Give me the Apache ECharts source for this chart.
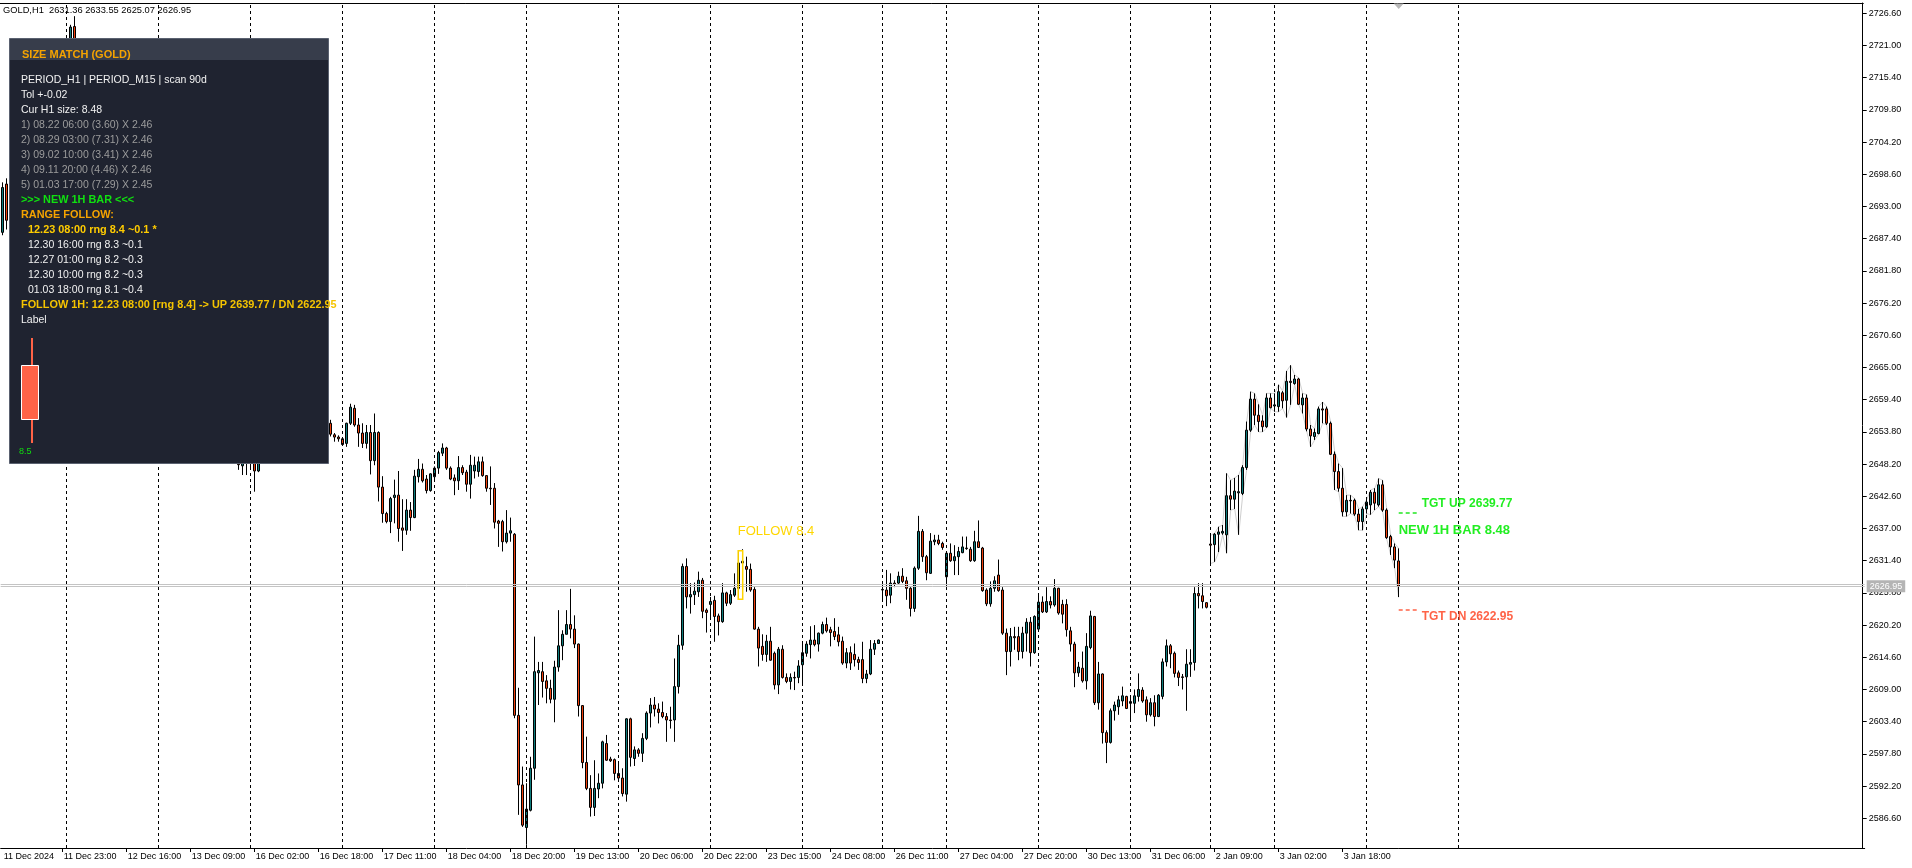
<!DOCTYPE html>
<html>
<head>
<meta charset="utf-8">
<script src="https://cdn.jsdelivr.net/npm/echarts@6.0.0/dist/echarts.min.js"></script>
<style>
html,body{margin:0;padding:0;background:#fff;}
#c{width:1912px;height:868px;}
</style>
</head>
<body>
<div id="c"></div>
<script>
// ---------------- DATA ----------------
const symbolName = 'GOLD,H1';
const lastOHLC = [2631.36, 2633.55, 2625.07, 2626.95]; // O H L C of current bar
const bidPrice = 2626.95;
const askPrice = 2627.30;
const tgtUp = 2639.77;
const tgtDn = 2622.95;
const followBar = 184;      // 23 Dec 08:00
const followRange = '8.4';
const newBarSize = '8.48';

// hourly bars [open, high, low, close]; bars 2..81 sit behind the panel (estimated)
const d11Dec = [
[2688.5,2697.2,2688.0,2696.3],[2696.9,2697.9,2689.0,2690.6],[2690.6,2693.0,2688.6,2692.4],[2692.4,2695.8,2691.0,2694.9],
[2694.9,2697.2,2693.1,2696.0],[2696.0,2699.4,2694.8,2698.7],[2698.7,2700.3,2696.2,2697.1],[2697.1,2703.5,2696.0,2702.8],
[2702.8,2708.9,2701.5,2707.4],[2707.4,2710.2,2704.6,2705.9],[2705.9,2712.4,2705.1,2711.6],[2711.6,2715.0,2709.8,2713.9],
[2713.9,2716.3,2711.2,2712.5],[2712.5,2717.8,2711.9,2716.9],[2716.9,2719.6,2715.3,2718.2],[2718.2,2720.1,2716.8,2717.5]];
const d12Dec = [
[2717.5,2721.8,2716.9,2720.9],[2720.9,2724.6,2720.2,2724.2],[2724.3,2726.1,2719.0,2720.0],[2720.0,2721.6,2716.4,2717.3],
[2717.3,2719.5,2714.8,2718.6],[2718.6,2720.4,2715.9,2716.5],[2716.5,2717.9,2712.7,2713.4],[2713.4,2715.8,2711.0,2714.9],
[2714.9,2716.2,2709.5,2710.3],[2710.3,2712.6,2706.8,2708.1],[2708.1,2711.4,2706.2,2710.6],[2710.6,2712.0,2704.9,2705.7],
[2705.7,2707.3,2700.8,2702.4],[2702.4,2704.6,2697.3,2698.9],[2698.9,2703.1,2697.6,2701.8],[2701.8,2702.5,2693.9,2695.2],
[2695.2,2697.4,2689.6,2691.3],[2691.3,2694.8,2686.5,2693.6],[2693.6,2695.9,2688.4,2689.7],[2689.7,2691.2,2683.9,2685.4],
[2685.4,2688.9,2683.2,2687.6],[2687.6,2689.3,2684.7,2686.1],[2686.1,2687.4,2683.8,2685.0]];
const d13Dec = [
[2685.0,2686.7,2682.5,2683.6],[2683.6,2685.9,2681.7,2685.1],[2685.1,2687.2,2683.0,2684.0],[2684.0,2684.8,2679.4,2680.6],
[2680.6,2682.9,2678.7,2681.9],[2681.9,2683.5,2677.8,2678.8],[2678.8,2680.4,2675.6,2676.9],[2676.9,2679.7,2675.2,2678.5],
[2678.5,2680.0,2673.9,2674.8],[2674.8,2676.3,2670.1,2671.3],[2671.3,2674.6,2669.4,2673.2],[2673.2,2674.1,2666.8,2667.9],
[2667.9,2669.5,2662.3,2663.6],[2663.6,2667.2,2661.0,2665.8],[2665.8,2666.9,2657.9,2659.4],[2659.4,2662.1,2655.3,2656.7],
[2656.7,2660.8,2654.9,2659.5],[2659.5,2660.4,2652.6,2654.0],[2654.0,2656.3,2650.8,2651.9],[2651.9,2654.7,2649.6,2653.3],
[2653.3,2654.0,2647.2,2648.1],[2647.9,2650.4,2646.3,2649.6],[2649.6,2650.2,2646.3,2648.4]];
const d16Dec = [
[2648.6,2651.3,2647.5,2650.4],[2650.4,2651.0,2643.4,2647.0],[2647.0,2650.8,2646.8,2649.9],[2649.9,2653.6,2649.1,2652.8],
[2652.8,2654.9,2650.7,2651.5],[2651.5,2655.2,2650.9,2654.6],[2654.6,2657.8,2653.7,2656.9],[2656.9,2658.3,2654.2,2655.3],
[2655.3,2659.6,2654.8,2658.7],[2658.7,2661.9,2657.5,2660.4],[2660.4,2663.0,2658.2,2659.1],[2659.1,2662.5,2657.6,2661.8],
[2661.8,2664.9,2660.3,2663.2],[2663.2,2664.1,2658.4,2659.6],[2659.6,2661.7,2656.1,2657.2],[2657.2,2660.3,2655.8,2659.4],
[2659.4,2660.8,2655.2,2656.1],[2656.1,2658.4,2653.9,2657.6],[2657.6,2659.2,2655.4,2656.0],[2656.0,2657.7,2654.6,2655.4],
[2655.3,2655.9,2653.0,2653.4],[2653.3,2653.6,2652.1,2652.9],[2652.9,2653.2,2652.1,2652.6]];
const d17Dec = [
[2652.6,2652.9,2651.4,2651.6],[2651.8,2655.4,2651.2,2655.3],[2655.3,2658.7,2655.0,2658.1],[2657.9,2658.5,2654.7,2655.0],
[2655.0,2656.2,2651.2,2653.6],[2653.6,2655.3,2651.0,2651.8],[2651.8,2655.0,2650.9,2653.7],[2653.7,2655.0,2646.4,2648.8],
[2648.8,2657.0,2648.0,2653.7],[2653.7,2653.9,2641.7,2644.2],[2644.2,2646.1,2638.0,2639.6],[2639.6,2639.9,2637.9,2638.2],
[2638.2,2642.5,2636.2,2642.2],[2642.4,2645.5,2637.9,2642.8],[2642.8,2647.0,2634.7,2637.0],[2637.1,2642.1,2633.1,2636.7],
[2636.7,2642.1,2635.9,2640.2],[2640.2,2641.6,2636.6,2638.9],[2638.9,2647.2,2638.8,2646.1],[2646.0,2649.1,2645.0,2647.3],
[2647.3,2648.3,2645.0,2645.3],[2645.6,2646.3,2643.1,2643.6],[2643.6,2646.6,2643.4,2646.5]];
const d18Dec = [
[2646.0,2647.8,2645.4,2647.5],[2647.5,2650.5,2646.5,2650.2],[2650.1,2651.8,2649.6,2651.0],[2651.0,2651.2,2647.2,2647.5],
[2647.5,2647.8,2645.4,2645.6],[2645.8,2646.4,2642.8,2645.3],[2645.3,2649.6,2643.7,2647.6],[2647.6,2648.0,2646.3,2646.7],
[2646.8,2647.2,2643.4,2644.7],[2644.7,2649.8,2642.2,2648.0],[2647.0,2649.5,2645.7,2648.0],[2646.9,2649.5,2646.0,2648.6],
[2648.6,2649.5,2646.0,2646.2],[2646.2,2646.3,2643.4,2644.0],[2644.0,2647.8,2641.1,2643.9],[2644.0,2644.9,2637.0,2638.1],
[2638.3,2638.5,2633.8,2637.9],[2638.2,2638.5,2633.0,2634.7],[2634.7,2640.2,2634.4,2636.2],[2636.2,2638.9,2634.7,2636.6],
[2636.0,2636.2,2604.0,2604.5],[2604.5,2609.3,2587.2,2592.4],[2592.4,2595.6,2585.1,2585.4]];
const d19Dec = [
[2585.0,2592.7,2582.0,2588.2],[2588.0,2597.3,2587.8,2595.3],[2595.3,2618.2,2593.3,2612.1],[2611.9,2613.8,2606.3,2612.3],
[2612.1,2613.8,2607.6,2610.4],[2610.5,2611.5,2606.6,2609.2],[2609.2,2610.7,2606.6,2607.3],[2607.3,2614.0,2603.3,2612.9],
[2612.9,2622.8,2612.1,2616.6],[2616.6,2619.3,2614.1,2618.6],[2618.6,2622.8,2618.6,2620.3],[2620.3,2626.5,2617.9,2619.5],
[2619.5,2621.9,2616.2,2616.9],[2616.9,2617.0,2604.3,2606.2],[2606.2,2606.3,2595.3,2596.3],[2596.3,2600.8,2591.5,2591.8],
[2591.8,2594.1,2586.9,2588.5],[2588.5,2596.7,2587.0,2591.8],[2591.7,2594.4,2590.1,2592.7],[2592.7,2600.1,2591.8,2599.9],
[2599.6,2601.1,2596.6,2596.7],[2596.9,2597.3,2596.4,2596.6],[2596.8,2597.0,2593.2,2594.4]];
const d20Dec = [
[2594.4,2596.2,2593.2,2593.6],[2593.6,2595.3,2590.4,2590.9],[2590.8,2604.0,2589.5,2603.9],[2603.9,2604.1,2595.6,2597.2],
[2597.0,2599.1,2595.7,2598.5],[2598.5,2598.8,2597.3,2597.9],[2597.9,2601.4,2596.4,2600.5],[2600.5,2605.2,2600.2,2604.9],
[2604.9,2607.5,2602.4,2606.3],[2606.3,2607.7,2604.3,2605.6],[2605.6,2606.6,2603.1,2605.0],[2605.0,2606.9,2604.0,2604.3],
[2604.3,2604.9,2599.9,2603.7],[2603.7,2606.0,2602.2,2603.6],[2603.7,2614.4,2599.9,2609.5],[2609.5,2618.5,2608.3,2616.7],
[2616.7,2630.9,2615.9,2630.4],[2630.4,2631.8,2623.1,2625.1],[2625.1,2627.5,2622.2,2625.5],[2625.5,2627.6,2623.7,2626.1],
[2626.0,2629.5,2625.1,2628.0],[2628.0,2628.4,2621.4,2622.6],[2622.8,2623.1,2618.9,2622.4]];
const d23Dec = [
[2623.8,2625.1,2621.4,2624.3],[2624.5,2625.3,2617.3,2621.7],[2621.8,2622.2,2618.4,2620.8],[2620.8,2627.5,2620.6,2625.8],
[2625.8,2626.0,2623.5,2624.0],[2624.0,2626.3,2623.7,2625.5],[2625.4,2629.2,2625.1,2626.6],[2626.6,2633.15,2624.7,2631.0],
[2631.0,2633.4,2626.4,2631.3],[2630.4,2632.1,2626.0,2629.9],[2629.9,2630.9,2626.0,2626.3],[2626.4,2626.8,2619.4,2619.5],
[2619.5,2619.9,2613.0,2616.2],[2616.5,2618.6,2614.0,2615.1],[2615.1,2618.5,2613.8,2617.4],[2617.4,2619.9,2614.0,2614.1],
[2615.3,2615.6,2609.0,2609.8],[2609.8,2616.4,2608.2,2616.0],[2616.0,2616.7,2610.9,2611.1],[2611.1,2611.8,2610.1,2610.4],
[2610.4,2611.8,2609.0,2611.1],[2611.1,2612.1,2608.9,2611.0],[2611.1,2614.1,2610.1,2613.1]];
const d24Dec = [
[2613.3,2617.0,2610.1,2615.4],[2615.3,2617.4,2614.7,2616.9],[2616.8,2620.0,2614.4,2617.6],[2617.6,2620.2,2616.5,2616.8],
[2616.9,2618.9,2615.6,2618.8],[2618.8,2620.8,2618.6,2620.3],[2620.3,2621.5,2618.9,2619.2],[2619.4,2619.9,2616.5,2618.9],
[2619.1,2621.4,2617.6,2618.2],[2618.5,2619.9,2616.5,2617.3],[2617.4,2618.2,2613.3,2613.6],[2613.6,2616.2,2612.7,2615.4],
[2615.4,2616.5,2612.4,2613.6],[2615.1,2617.0,2613.0,2614.2],[2614.2,2614.7,2612.4,2613.7],[2614.2,2617.3,2610.1,2610.9],
[2610.9,2612.4,2610.1,2611.7],[2611.7,2617.6,2611.5,2616.0],[2616.0,2617.6,2615.0,2617.0],[2617.0,2617.7,2617.0,2617.6]];
const d26Dec = [
[2626.4,2627.2,2624.6,2626.3],[2626.3,2629.8,2623.5,2625.3],[2625.4,2629.2,2624.0,2627.5],[2627.5,2628.0,2626.8,2627.3],
[2627.5,2629.5,2627.2,2628.7],[2628.7,2630.1,2627.5,2627.8],[2627.9,2628.6,2624.6,2626.6],[2626.6,2626.8,2621.7,2623.1],
[2623.1,2630.4,2622.5,2630.1],[2630.1,2639.2,2629.8,2636.5],[2636.5,2636.9,2631.2,2632.1],[2632.1,2632.4,2628.0,2629.3],
[2629.2,2636.2,2629.1,2634.8],[2634.7,2635.9,2634.1,2635.0],[2635.0,2635.9,2634.1,2634.4],[2634.4,2634.7,2633.3,2633.7]];
const d27Dec = [
[2628.6,2632.8,2626.3,2632.7],[2632.7,2634.4,2631.2,2631.4],[2631.4,2634.1,2628.9,2632.1],[2632.1,2633.8,2628.9,2633.0],
[2632.8,2635.6,2632.7,2633.8],[2633.6,2635.6,2633.3,2633.5],[2633.4,2633.8,2631.2,2631.4],[2631.4,2636.6,2631.2,2634.7],
[2634.7,2638.4,2633.6,2633.7],[2633.6,2633.8,2626.0,2626.2],[2626.3,2626.6,2623.5,2623.9],[2623.9,2627.8,2623.4,2626.6],
[2626.6,2628.7,2626.0,2627.9],[2628.9,2631.6,2626.0,2626.2],[2626.3,2626.8,2618.5,2618.8],[2618.8,2619.6,2611.5,2615.6],
[2615.6,2619.7,2613.0,2618.2],[2618.2,2619.9,2615.9,2618.0],[2618.2,2619.9,2614.1,2615.6],[2615.6,2619.9,2614.4,2618.8],
[2618.8,2621.4,2615.6,2620.7],[2620.7,2621.6,2613.0,2615.4],[2615.4,2621.9,2615.2,2621.7]];
const d30Dec = [
[2619.5,2625.3,2619.4,2624.2],[2624.2,2625.2,2622.3,2622.5],[2622.5,2626.8,2622.3,2624.3],[2624.3,2625.2,2623.1,2623.7],
[2623.7,2628.2,2623.4,2626.6],[2626.6,2626.7,2622.0,2622.3],[2623.8,2624.6,2620.5,2622.1],[2623.8,2624.7,2618.2,2619.4],
[2619.2,2619.9,2615.6,2616.9],[2616.9,2617.3,2609.4,2611.9],[2611.9,2613.8,2611.2,2612.9],[2612.7,2615.6,2610.2,2610.5],
[2610.5,2618.8,2609.0,2616.5],[2616.3,2622.7,2616.0,2621.8],[2621.7,2621.8,2606.3,2606.7],[2606.7,2613.8,2605.5,2611.7],
[2611.7,2611.8,2599.6,2601.5],[2601.5,2601.9,2596.2,2599.8],[2599.8,2605.7,2599.6,2605.3],[2605.3,2606.9,2603.6,2606.3],
[2606.0,2607.9,2604.6,2607.2],[2607.0,2609.5,2606.1,2607.9],[2607.8,2607.9,2605.6,2605.7]];
const d31Dec = [
[2606.6,2607.8,2603.7,2606.9],[2606.6,2609.0,2604.9,2607.9],[2607.8,2611.8,2606.9,2609.0],[2608.9,2609.4,2606.7,2607.0],
[2607.2,2607.8,2603.4,2604.6],[2604.6,2607.5,2604.3,2606.7],[2606.7,2608.0,2602.6,2604.3],[2604.3,2608.2,2604.2,2608.0],
[2607.8,2614.4,2607.3,2613.8],[2613.8,2617.7,2613.0,2616.6],[2616.6,2616.9,2612.7,2615.2],[2615.3,2615.6,2611.1,2611.8],
[2611.9,2612.3,2609.6,2611.1],[2611.2,2611.7,2609.0,2611.1],[2611.2,2616.0,2605.3,2613.4],[2613.4,2616.0,2611.2,2613.7],
[2613.7,2626.8,2612.3,2625.7],[2625.7,2627.5,2623.1,2625.3],[2625.3,2627.5,2623.1,2624.3],[2624.1,2624.2,2623.1,2623.3]];
const d2Jan = [
[2634.3,2635.8,2630.9,2634.1],[2634.2,2636.2,2631.2,2636.0],[2636.0,2637.3,2632.9,2636.4],[2636.2,2637.6,2635.9,2636.5],
[2635.9,2646.6,2632.7,2642.7],[2642.7,2645.4,2640.2,2642.1],[2642.1,2645.8,2640.4,2643.5],[2643.2,2646.3,2635.9,2643.4],
[2643.1,2648.0,2642.8,2647.6],[2647.6,2655.6,2647.2,2654.1],[2654.1,2660.8,2653.8,2659.5],[2659.5,2660.5,2655.0,2656.7],
[2656.7,2658.6,2653.8,2655.6],[2655.7,2656.7,2653.8,2654.7],[2654.7,2660.5,2654.5,2659.7],[2659.7,2660.5,2657.9,2658.0]];
const d3Jan = [
[2658.3,2660.5,2657.3,2658.5],[2658.2,2662.0,2657.3,2660.8],[2660.6,2660.9,2657.9,2659.2],[2659.3,2664.4,2656.3,2662.6],
[2662.6,2665.4,2658.5,2662.4],[2662.2,2663.7,2662.0,2663.0],[2663.0,2663.2,2658.5,2658.6],[2658.5,2660.5,2657.0,2659.7],
[2659.7,2660.3,2653.9,2654.3],[2654.3,2655.0,2651.2,2653.1],[2653.0,2654.4,2652.4,2653.7],[2653.5,2658.2,2653.4,2657.8],
[2657.8,2659.0,2655.3,2657.6],[2657.8,2658.2,2655.0,2655.3],[2655.3,2655.6,2649.8,2649.9],[2649.9,2650.4,2643.7,2646.9],
[2646.9,2648.3,2643.4,2644.0],[2644.0,2647.5,2639.1,2639.9],[2639.9,2642.8,2639.1,2641.9],[2641.9,2642.8,2639.6,2641.8],
[2641.9,2642.2,2639.2,2639.5],[2639.5,2640.4,2636.7,2638.2],[2638.2,2640.8,2636.7,2640.4]];
const d6Jan = [
[2640.4,2642.0,2639.6,2641.6],[2641.1,2643.7,2639.4,2643.3],[2643.3,2644.0,2640.2,2641.4],[2641.1,2645.7,2640.8,2644.6],
[2644.6,2645.4,2639.9,2640.2],[2640.2,2640.5,2635.2,2635.4],[2635.6,2635.9,2632.4,2633.8],[2633.8,2634.4,2630.1,2631.5],
lastOHLC];

// day separators (bar index of each day's first bar)
const sepBars = [16,39,62,85,108,131,154,177,200,220,236,259,282,302,318,341,364];
// time-axis labels and the bars they sit on
const xTickBars = [0,15,31,47,63,79,95,111,127,143,159,175,191,207,223,239,255,271,287,303,319,335];
const xTickLabels = ['11 Dec 2024','11 Dec 23:00','12 Dec 16:00','13 Dec 09:00','16 Dec 02:00','16 Dec 18:00',
  '17 Dec 11:00','18 Dec 04:00','18 Dec 20:00','19 Dec 13:00','20 Dec 06:00','20 Dec 22:00','23 Dec 15:00',
  '24 Dec 08:00','26 Dec 11:00','27 Dec 04:00','27 Dec 20:00','30 Dec 13:00','31 Dec 06:00','2 Jan 09:00',
  '3 Jan 02:00','3 Jan 18:00'];
// price-axis labels
const yTicks = [2586.6,2592.2,2597.8,2603.4,2609.0,2614.6,2620.2,2625.8,2631.4,2637.0,2642.6,2648.2,2653.8,
  2659.4,2665.0,2670.6,2676.2,2681.8,2687.4,2693.0,2698.6,2704.2,2709.8,2715.4,2721.0,2726.6];
const envelopeStart = 302;

// panel texts
const panelTitle = 'SIZE MATCH (GOLD)';
const infoLines = ['PERIOD_H1 | PERIOD_M15 | scan 90d','Tol +-0.02','Cur H1 size: 8.48'];
const matchLines = ['1) 08.22 06:00 (3.60) X 2.46','2) 08.29 03:00 (7.31) X 2.46','3) 09.02 10:00 (3.41) X 2.46',
  '4) 09.11 20:00 (4.46) X 2.46','5) 01.03 17:00 (7.29) X 2.45'];
const newBarLine = '>>> NEW 1H BAR <<<';
const rangeTitle = 'RANGE FOLLOW:';
const rangeLines = ['12.23 08:00 rng 8.4 ~0.1 *','12.30 16:00 rng 8.3 ~0.1','12.27 01:00 rng 8.2 ~0.3',
  '12.30 10:00 rng 8.2 ~0.3','01.03 18:00 rng 8.1 ~0.4'];
const followLine = 'FOLLOW 1H: 12.23 08:00 [rng 8.4] -> UP 2639.77 / DN 2622.95';
const labelLine = 'Label';
const miniCandleText = '8.5';

// ---------------- BUILD ----------------
const TOTAL_SLOTS = 466;
const bars = [].concat(d11Dec,d12Dec,d13Dec,d16Dec,d17Dec,d18Dec,d19Dec,d20Dec,d23Dec,d24Dec,d26Dec,d27Dec,d30Dec,d31Dec,d2Jan,d3Jan,d6Jan);
const lastIdx = bars.length - 1;
const cats = [];
for (let i = 0; i < TOTAL_SLOTS; i++) cats.push(String(i));
const candleData = bars.map(b => [b[0], b[3], b[2], b[1]]);
const envHigh = cats.map((c, i) => (i >= envelopeStart && i <= lastIdx) ? bars[i][1] : '-');
const envLow = cats.map((c, i) => (i >= envelopeStart && i <= lastIdx) ? bars[i][2] : '-');
const tickSet = new Set(xTickBars);
const labelByIdx = {};
xTickBars.forEach((b, i) => { labelByIdx[b] = xTickLabels[i]; });

const Y_MIN = 2581.435, Y_MAX = 2728.39;
const FONT = '"Liberation Sans", Arial, sans-serif';
const BULL = '#0e7c7c', BEAR = '#f0410d';

const chart = echarts.init(document.getElementById('c'), null, {renderer: 'canvas', width: 1912, height: 868});

const markLines = [];
sepBars.forEach(b => markLines.push({xAxis: String(b), lineStyle: {type: [3, 3], color: '#000', width: 1}, label: {show: false}}));
markLines.push({yAxis: askPrice, lineStyle: {type: 'solid', color: '#c4c4c4', width: 1}, label: {show: false}});
markLines.push({yAxis: bidPrice, lineStyle: {type: 'solid', color: '#c4c4c4', width: 1},
  label: {show: true, position: 'end', distance: 2, formatter: bidPrice.toFixed(2), color: '#fff',
    backgroundColor: '#b4b4b4', padding: [2, 3, 1, 3], fontSize: 9, fontFamily: FONT}});
markLines.push([{coord: [String(lastIdx), tgtUp]}, {coord: [String(lastIdx + 5), tgtUp], lineStyle: {type: [4, 3], color: '#22e622', width: 1.5}, label: {show: false}}]);
markLines.push([{coord: [String(lastIdx), tgtDn]}, {coord: [String(lastIdx + 5), tgtDn], lineStyle: {type: [4, 3], color: '#ff6347', width: 1.5}, label: {show: false}}]);

const option = {
  animation: false,
  backgroundColor: '#ffffff',
  grid: {left: 0.7, top: 3, width: 1864, height: 845, show: false},
  xAxis: {
    type: 'category', data: cats, boundaryGap: true,
    axisLine: {show: true, lineStyle: {color: '#000', width: 1}},
    axisTick: {show: true, alignWithLabel: true, length: 4, interval: (i) => tickSet.has(i) && i > 0, lineStyle: {color: '#000'}},
    axisLabel: {interval: (i) => tickSet.has(i), formatter: (v, i) => labelByIdx[i] || '', align: 'left',
      margin: 4, fontSize: 9, color: '#000', fontFamily: FONT, padding: [0, 0, 0, 1]},
    splitLine: {show: false}
  },
  yAxis: {
    type: 'value', position: 'right', min: Y_MIN, max: Y_MAX, offset: -2,
    axisLine: {show: true, lineStyle: {color: '#000', width: 1}},
    axisTick: {show: true, customValues: yTicks, length: 4, lineStyle: {color: '#000'}},
    axisLabel: {customValues: yTicks, formatter: (v) => v.toFixed(2), margin: 6, fontSize: 9, color: '#000', fontFamily: FONT},
    splitLine: {show: false}
  },
  series: [
    {type: 'line', data: envHigh, symbol: 'none', silent: true, z: 1, lineStyle: {color: '#cfcfcf', width: 1}, connectNulls: false},
    {type: 'line', data: envLow, symbol: 'none', silent: true, z: 1, lineStyle: {color: '#cfcfcf', width: 1}, connectNulls: false},
    {
      type: 'candlestick', data: candleData, barWidth: 2, z: 3, silent: true,
      itemStyle: {color: BULL, color0: BEAR, borderColor: '#000', borderColor0: '#000', borderColorDoji: '#000', borderWidth: 1},
      markLine: {silent: true, symbol: ['none', 'none'], animation: false, data: markLines}
    }
  ]
};
chart.setOption(option);

// ---------- overlays positioned through the chart's own scales ----------
function px(k, p) { return chart.convertToPixel({xAxisIndex: 0, yAxisIndex: 0}, [String(k), p]); }
const g = [];
// top frame line
const topLeft = px(0, Y_MAX), topRight = px(TOTAL_SLOTS - 1, Y_MAX);
g.push({type: 'line', shape: {x1: 0, y1: topLeft[1] + 0.5, x2: topRight[0] + 1, y2: topLeft[1] + 0.5}, style: {stroke: '#000', lineWidth: 1}, z: 5});
// shift marker
const sm = px(lastIdx, Y_MAX);
g.push({type: 'polygon', shape: {points: [[sm[0] - 5, sm[1] + 0.5], [sm[0] + 5, sm[1] + 0.5], [sm[0], sm[1] + 6]]}, style: {fill: '#b8b8b8'}, z: 6});
// follow-bar frame and label
const fb = bars[followBar];
const fTop = px(followBar, fb[1]), fBot = px(followBar + 1, fb[2]);
g.push({type: 'rect', shape: {x: fTop[0] - 0.5, y: fTop[1], width: fBot[0] - fTop[0] + 0.5, height: fBot[1] - fTop[1]}, style: {fill: 'none', stroke: '#ffd400', lineWidth: 1.5}, z: 6});
g.push({type: 'text', x: fTop[0] - 1, y: fTop[1] - 19, style: {text: 'FOLLOW ' + followRange, fill: '#ffd700', font: '13px ' + FONT, verticalAlign: 'middle'}, z: 6});
// targets
const up = px(lastIdx, tgtUp), dn = px(lastIdx, tgtDn);
g.push({type: 'text', x: up[0] + 23, y: up[1] - 9, style: {text: 'TGT UP ' + tgtUp.toFixed(2), fill: '#22ee22', font: 'bold 12px ' + FONT, verticalAlign: 'middle'}, z: 6});
g.push({type: 'text', x: up[0], y: up[1] + 18, style: {text: 'NEW 1H BAR ' + newBarSize, fill: '#22ee22', font: 'bold 13px ' + FONT, verticalAlign: 'middle'}, z: 6});
g.push({type: 'text', x: dn[0] + 23, y: dn[1] + 7, style: {text: 'TGT DN ' + tgtDn.toFixed(2), fill: '#ff6347', font: 'bold 12px ' + FONT, verticalAlign: 'middle'}, z: 6});
// header quote text
g.push({type: 'text', x: 3, y: 10, style: {text: symbolName + '  ' + lastOHLC.map(v => v.toFixed(2)).join(' '), fill: '#000', font: '9.3px ' + FONT, verticalAlign: 'middle'}, z: 6});

// info panel
const P = {x: 9, y: 38, w: 319, h: 425};
g.push({type: 'rect', shape: {x: P.x + 0.5, y: P.y + 0.5, width: P.w, height: P.h}, style: {fill: '#1f2330', stroke: '#5a6170', lineWidth: 1}, z: 20});
g.push({type: 'rect', shape: {x: P.x + 1, y: P.y + 1, width: P.w - 1, height: 21}, style: {fill: '#373d4b'}, z: 21});
function txt(t, x, y, color, weight, size) {
  const w = weight || 'normal';
  const s = size || (w === 'bold' ? 10.9 : 10.5);
  g.push({type: 'text', x: x, y: y, style: {text: t, fill: color, font: w + ' ' + s + 'px ' + FONT, verticalAlign: 'middle'}, z: 22});
}
txt(panelTitle, 22, 55, '#f5a300', 'bold', 11);
let ly = 80;
infoLines.forEach(t => { txt(t, 21, ly, '#f2f2f2'); ly += 15; });
matchLines.forEach(t => { txt(t, 21, ly, '#9c9c9c'); ly += 15; });
txt(newBarLine, 21, ly, '#10e010', 'bold'); ly += 15;
txt(rangeTitle, 21, ly, '#f5a300', 'bold'); ly += 15;
rangeLines.forEach((t, i) => { if (i === 0) txt(t, 28, ly, '#ffcc00', 'bold'); else txt(t, 28, ly, '#f2f2f2'); ly += 15; });
txt(followLine, 21, ly, '#f5c400', 'bold'); ly += 15;
txt(labelLine, 21, ly, '#f2f2f2');
// mini candle glyph in panel
g.push({type: 'line', shape: {x1: 32, y1: 338, x2: 32, y2: 443}, style: {stroke: '#ff6347', lineWidth: 2}, z: 22});
g.push({type: 'rect', shape: {x: 21.5, y: 365.5, width: 17, height: 54}, style: {fill: '#ff6347', stroke: '#ffffff', lineWidth: 1}, z: 23});
txt(miniCandleText, 19, 452, '#10dd10', 'normal', 9);

chart.setOption({graphic: {elements: g}});
</script>
</body>
</html>
